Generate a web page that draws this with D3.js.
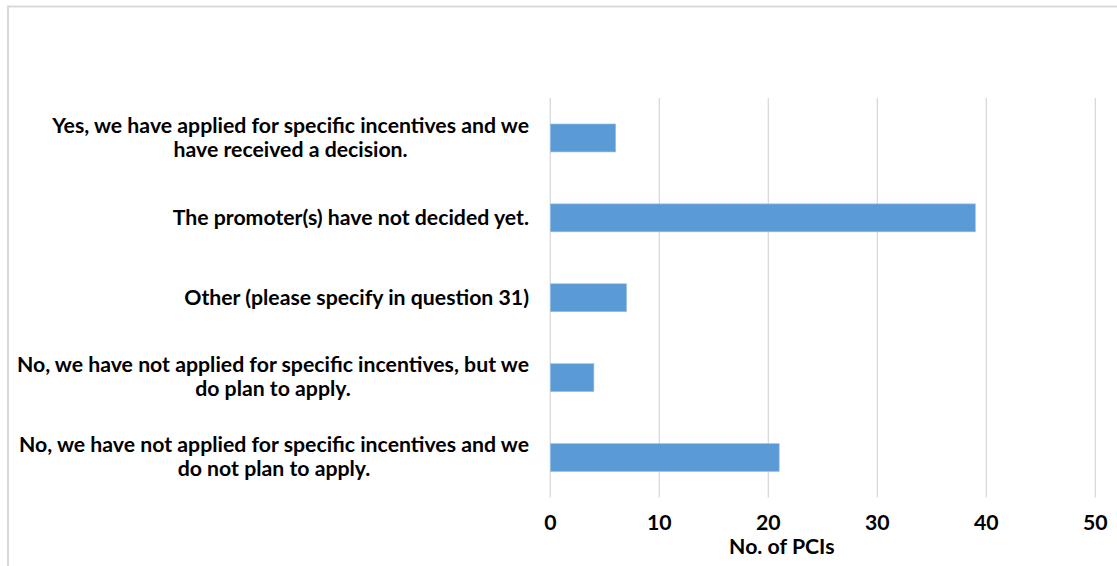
<!DOCTYPE html>
<html>
<head>
<meta charset="utf-8">
<script src="https://cdn.jsdelivr.net/npm/d3@7"></script>
<style>
  html, body { margin: 0; padding: 0; background: #fff; }
  svg { display: block; }
  text { font-family: Lato, "Open Sans", sans-serif; font-weight: 700; fill: #000; }
</style>
</head>
<body>
<svg id="chart" width="1117" height="566"></svg>
<script>
// ---- data ----
const categories = [
  ["Yes, we have applied for specific incentives and we", "have received a decision."],
  ["The promoter(s) have not decided yet."],
  ["Other (please specify in question 31)"],
  ["No, we have not applied for specific incentives, but we", "do plan to apply."],
  ["No, we have not applied for specific incentives and we", "do not plan to apply."]
];
const values = [6, 39, 7, 4, 21];
const xTicks = [0, 10, 20, 30, 40, 50];
const xTitle = "No. of PCIs";

// ---- layout ----
const W = 1117, H = 566;
const plot = { left: 550.3, right: 1095.3, top: 98, bottom: 497.5 };
const labelRight = 529;
const svg = d3.select("#chart");

// frame (cropped on right and bottom)
svg.append("rect").attr("x", 8).attr("y", 6.5).attr("width", 1300).attr("height", 700)
  .attr("fill", "none").attr("stroke", "#d9d9d9").attr("stroke-width", 2);

// font size fitted to the widest label line
const probe = svg.append("text").style("font-size", "18px").text(categories[0][0]);
const w18 = probe.node().getComputedTextLength();
probe.remove();
const fs = 18 * 477 / w18;
const lineH = 24;

const x = d3.scaleLinear().domain([0, 50]).range([plot.left, plot.right]);
const y = d3.scaleBand().domain(d3.range(categories.length))
  .range([plot.top, plot.bottom]).paddingInner(0.65).paddingOuter(0.325);

// gridlines
svg.append("g").selectAll("line").data(xTicks).join("line")
  .attr("x1", d => x(d)).attr("x2", d => x(d))
  .attr("y1", plot.top).attr("y2", plot.bottom)
  .attr("stroke", "#d9d9d9").attr("stroke-width", 1.3);

// bars
svg.append("g").selectAll("rect").data(values).join("rect")
  .attr("x", x(0)).attr("y", (d, i) => y(i))
  .attr("width", d => x(d) - x(0)).attr("height", y.bandwidth())
  .attr("fill", "#5b9bd5").attr("stroke", "#9dc3e6").attr("stroke-width", 0.6);

// category labels (block right-aligned, lines centered within block)
const lg = svg.append("g").style("font-size", fs + "px");
categories.forEach((lines, i) => {
  const cy = y(i) + y.bandwidth() / 2;
  const tmp = lines.map(l => {
    const t = lg.append("text").text(l);
    const w = t.node().getComputedTextLength();
    t.remove();
    return w;
  });
  const blockW = d3.max(tmp);
  const cx = labelRight - blockW / 2;
  lines.forEach((l, j) => {
    lg.append("text")
      .attr("x", cx)
      .attr("y", cy + (j - (lines.length - 1) / 2) * lineH + 0.32 * fs)
      .attr("text-anchor", "middle")
      .text(l);
  });
});

// x tick labels
svg.append("g").style("font-size", fs + "px").selectAll("text").data(xTicks).join("text")
  .attr("x", d => x(d)).attr("y", 530)
  .attr("text-anchor", "middle").text(d => d);

// x axis title
svg.append("text").style("font-size", fs + "px")
  .attr("x", (plot.left + plot.right) / 2 - 41).attr("y", 554)
  .attr("text-anchor", "middle").text(xTitle);
</script>
</body>
</html>
